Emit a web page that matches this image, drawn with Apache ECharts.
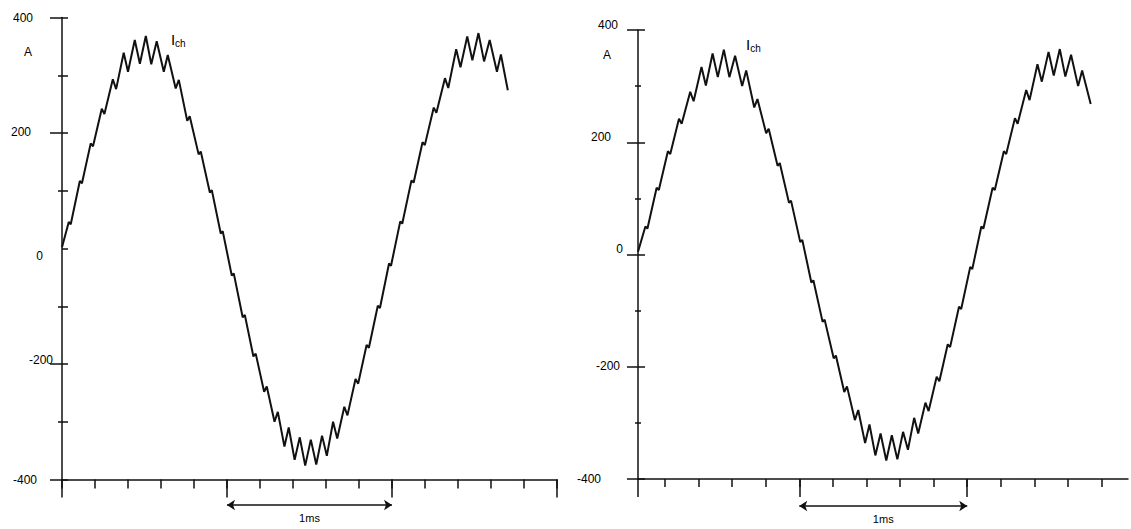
<!DOCTYPE html>
<html>
<head>
<meta charset="utf-8">
<script src="https://cdn.jsdelivr.net/npm/echarts@6/dist/echarts.min.js"></script>
<style>
  html, body { margin: 0; padding: 0; background: #fff; }
  #chart { width: 1131px; height: 529px; }
</style>
</head>
<body>
<div id="chart"></div>
<script>
// Chopper current I_ch, two recordings. Time in ms, current in A.
const leftTimeMs = [
  0,
  0.041, 0.053, 0.108, 0.121, 0.174, 0.188, 0.241, 0.257, 0.308, 0.328,
  0.374, 0.400, 0.441, 0.472, 0.508, 0.541, 0.574, 0.617, 0.641, 0.689,
  0.708, 0.759, 0.774, 0.828, 0.841, 0.896, 0.908, 0.962, 0.974, 1.029,
  1.041, 1.095, 1.108, 1.160, 1.174, 1.225, 1.241, 1.288, 1.308, 1.348,
  1.374, 1.410, 1.441, 1.474, 1.508, 1.541, 1.576, 1.605, 1.643, 1.668,
  1.711, 1.730, 1.779, 1.795, 1.846, 1.860, 1.914, 1.927, 1.982, 1.994,
  2.050, 2.062, 2.118, 2.131, 2.185, 2.199, 2.253, 2.269, 2.321, 2.341,
  2.389, 2.415, 2.456, 2.487, 2.524, 2.558, 2.592, 2.636, 2.660, 2.702
];
const leftCurrentA = [
  2,
  46, 42, 117, 113, 182, 177, 242, 233, 293, 276,
  339, 306, 361, 320, 368, 319, 359, 306, 335, 277,
  292, 221, 229, 163, 168, 97, 101, 26, 30, -47,
  -43, -119, -115, -187, -182, -248, -239, -300, -283, -343,
  -310, -366, -327, -376, -331, -374, -324, -359, -300, -329,
  -274, -289, -226, -234, -167, -172, -99, -103, -26, -30,
  47, 43, 118, 114, 184, 179, 244, 235, 295, 278,
  345, 314, 367, 326, 373, 324, 361, 306, 336, 274
];
const rightTimeMs = [
  0.040,
  0.084, 0.096, 0.151, 0.164, 0.218, 0.232, 0.284, 0.300, 0.351, 0.371,
  0.418, 0.444, 0.484, 0.515, 0.551, 0.584, 0.618, 0.660, 0.684, 0.732,
  0.751, 0.803, 0.818, 0.871, 0.884, 0.939, 0.951, 1.006, 1.018, 1.072,
  1.084, 1.139, 1.151, 1.205, 1.218, 1.268, 1.284, 1.331, 1.351, 1.392,
  1.418, 1.453, 1.484, 1.518, 1.551, 1.584, 1.618, 1.647, 1.684, 1.708,
  1.751, 1.770, 1.818, 1.834, 1.884, 1.898, 1.951, 1.964, 2.018, 2.030,
  2.084, 2.096, 2.151, 2.164, 2.218, 2.232, 2.284, 2.300, 2.351, 2.371,
  2.418, 2.444, 2.484, 2.515, 2.551, 2.584, 2.618, 2.660, 2.684, 2.735
];
const rightCurrentA = [
  5,
  50, 46, 119, 115, 184, 179, 242, 233, 290, 273,
  334, 301, 358, 316, 365, 316, 354, 300, 328, 262,
  277, 216, 224, 158, 163, 92, 96, 22, 26, -50,
  -46, -120, -116, -185, -180, -245, -235, -295, -277, -336,
  -303, -358, -319, -367, -322, -365, -316, -348, -291, -319,
  -264, -279, -218, -226, -160, -165, -93, -97, -22, -26,
  50, 46, 119, 115, 184, 179, 243, 233, 293, 275,
  339, 308, 361, 319, 366, 317, 356, 300, 328, 268
];

// Axis definitions
const yMin = -400, yMax = 400, yStep = 200;
const yMajorTicks = [-400, -200, 0, 200, 400];
const leftOuterTicks = [-400, -200, 200, 400];
const leftXRange = [0, 3];
const rightXRange = [0.04, 2.957];
const xMinorStep = 0.2;
const rightMinorTicks = [0.2, 0.4, 0.6, 0.8, 1.0, 1.2, 1.4, 1.6, 1.8, 2.0, 2.2, 2.4, 2.6, 2.8];
const leftMajorTicks = [0, 1, 2, 3];
const rightMajorTicks = [0.04, 1, 2];
const scaleBarMs = [1, 2];
const scaleBarText = '1ms';
const unitText = 'A';
const seriesName = 'I_ch';
const leftNameAt = [0.66, 361];
const rightNameAt = [0.683, 373];

const FONT = '"Liberation Sans", Arial, sans-serif';
const INK = '#111';

// Per-label placement: [vertical shift px, gap from axis px]
const leftLabelPlace = { '400': [0, 29], '200': [-1, 31], '0': [7, 19], '-200': [-4, 9], '-400': [0, 25] };
const rightLabelPlace = { '400': [-5, 20], '200': [-5, 27], '0': [-6, 15], '-200': [-1, 18], '-400': [0, 37] };

function labelKey(v) { return (v < 0 ? 'm' : 'p') + Math.abs(v); }
function labelRich(place) {
  const rich = {};
  Object.keys(place).forEach(function (k) {
    const dy = place[k][0], gap = place[k][1];
    rich[labelKey(Number(k))] = {
      fontFamily: FONT, fontSize: 12, color: '#000',
      padding: [dy > 0 ? 2 * dy : 0, gap, dy < 0 ? -2 * dy : 0, 0]
    };
  });
  return rich;
}

function outerY(gridIndex, place, majorLeft, minorLeft, tickValues, nameGap, namePad) {
  return {
    type: 'value', gridIndex: gridIndex, position: 'left',
    min: yMin, max: yMax, interval: yStep,
    name: unitText, nameLocation: 'end', nameGap: nameGap,
    nameTextStyle: { fontFamily: FONT, fontSize: 12, color: '#000', align: 'right', verticalAlign: 'middle', padding: [0, namePad, 0, 0] },
    axisLine: { show: true, onZero: false, lineStyle: { color: INK, width: 1.5 } },
    axisTick: { show: true, inside: false, length: majorLeft, customValues: tickValues, lineStyle: { color: INK, width: 1.5 } },
    minorTick: { show: true, splitNumber: 2, length: minorLeft, lineStyle: { color: INK, width: 1.5 } },
    splitLine: { show: false },
    axisLabel: {
      show: true, margin: 0,
      formatter: function (v) { return '{' + labelKey(v) + '|' + v + '}'; },
      rich: labelRich(place)
    }
  };
}
function innerY(gridIndex, majorRight, minorRight) {
  return {
    type: 'value', gridIndex: gridIndex, position: 'left',
    min: yMin, max: yMax, interval: yStep,
    axisLine: { show: false, onZero: false },
    axisTick: { show: true, inside: true, length: majorRight, lineStyle: { color: INK, width: 1.5 } },
    minorTick: { show: true, splitNumber: 2, length: minorRight, lineStyle: { color: INK, width: 1.5 } },
    splitLine: { show: false },
    axisLabel: { show: false }
  };
}
function tickX(gridIndex, range, len, showLine, tickValues) {
  const tick = { show: true, inside: false, length: len, lineStyle: { color: INK, width: 1.5 } };
  const axis = {
    type: 'value', gridIndex: gridIndex, position: 'bottom',
    min: range[0], max: range[1],
    axisLine: { show: showLine, onZero: false, lineStyle: { color: INK, width: 1.5 } },
    axisTick: tick,
    axisLabel: { show: false },
    splitLine: { show: false }
  };
  if (tickValues) tick.customValues = tickValues;
  else axis.interval = xMinorStep;
  return axis;
}
function barAxisX(gridIndex, range) {
  return { type: 'value', gridIndex: gridIndex, min: range[0], max: range[1], show: false };
}
function barAxisY(gridIndex) {
  return { type: 'value', gridIndex: gridIndex, min: 0, max: 1, show: false };
}

function zip(xs, ys) { return xs.map(function (x, i) { return [x, ys[i]]; }); }

function nameMark(at) {
  return {
    silent: true, symbol: 'circle', symbolSize: 0,
    label: {
      show: true, position: 'inside', align: 'left', verticalAlign: 'middle',
      formatter: '{i|I}{s|ch}',
      rich: {
        i: { fontFamily: FONT, fontSize: 15, color: '#000', lineHeight: 16, verticalAlign: 'top' },
        s: { fontFamily: FONT, fontSize: 10, color: '#000', lineHeight: 16, verticalAlign: 'bottom', padding: [6, 0, 0, 0] }
      }
    },
    data: [{ coord: at }]
  };
}

function scaleBarSeries(axisIndex) {
  return {
    type: 'line', xAxisIndex: axisIndex, yAxisIndex: axisIndex,
    data: scaleBarMs.map(function (t) { return [t, 0.5]; }),
    showSymbol: false, lineStyle: { opacity: 0 }, silent: true,
    markLine: {
      silent: true, symbol: ['arrow', 'arrow'], symbolSize: 8,
      lineStyle: { color: INK, width: 1.5, type: 'solid' },
      label: {
        show: true, position: 'insideMiddleBottom', distance: 7,
        formatter: scaleBarText, fontFamily: FONT, fontSize: 11, color: '#000'
      },
      data: [[{ coord: [scaleBarMs[0], 0.5] }, { coord: [scaleBarMs[1], 0.5] }]]
    }
  };
}

const chart = echarts.init(document.getElementById('chart'), null, { renderer: 'svg' });
chart.setOption({
  animation: false,
  backgroundColor: '#fff',
  grid: [
    { left: 62, top: 17.5, width: 495, height: 462 },
    { left: 638, top: 30, width: 490, height: 449 },
    { left: 62, top: 495, width: 495, height: 20 },
    { left: 638, top: 496, width: 490, height: 20 }
  ],
  xAxis: [
    tickX(0, leftXRange, 9, true, null),
    tickX(0, leftXRange, 18, false, leftMajorTicks),
    tickX(1, rightXRange, 8, true, rightMinorTicks),
    tickX(1, rightXRange, 18, false, rightMajorTicks),
    barAxisX(2, leftXRange),
    barAxisX(3, rightXRange)
  ],
  yAxis: [
    outerY(0, leftLabelPlace, 12, 4, leftOuterTicks, -34.5, 30),
    innerY(0, 6, 6),
    outerY(1, rightLabelPlace, 11, 3, yMajorTicks, -25, 27),
    innerY(1, 7, 3),
    barAxisY(2),
    barAxisY(3)
  ],
  series: [
    {
      name: seriesName, type: 'line', xAxisIndex: 0, yAxisIndex: 0,
      data: zip(leftTimeMs, leftCurrentA), showSymbol: false, clip: false,
      lineStyle: { color: INK, width: 2 },
      markPoint: nameMark(leftNameAt)
    },
    {
      name: seriesName, type: 'line', xAxisIndex: 2, yAxisIndex: 2,
      data: zip(rightTimeMs, rightCurrentA), showSymbol: false, clip: false,
      lineStyle: { color: INK, width: 2 },
      markPoint: nameMark(rightNameAt)
    },
    scaleBarSeries(4),
    scaleBarSeries(5)
  ]
});
</script>
</body>
</html>
